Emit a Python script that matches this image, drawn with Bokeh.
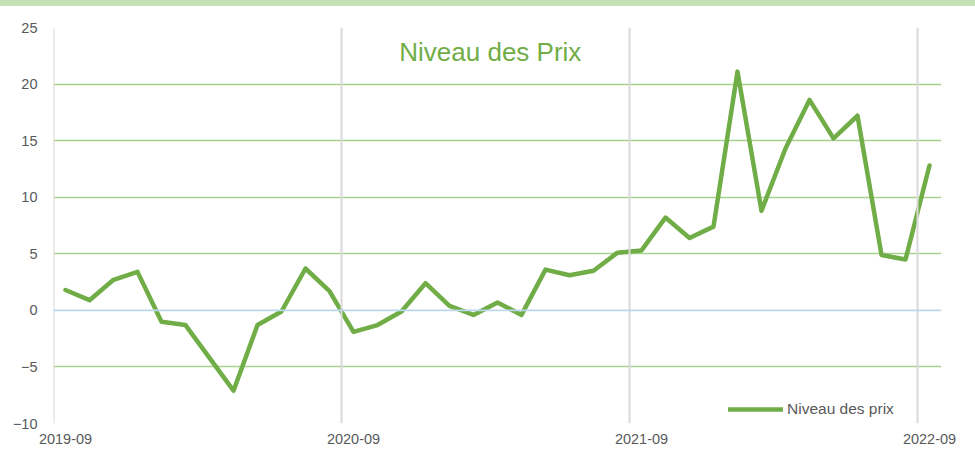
import pandas as pd
from bokeh.plotting import figure
from bokeh.models import (Range1d, FixedTicker, Span, Label, Legend, LegendItem, Div)
from bokeh.layouts import column
from bokeh.embed import file_html
from bokeh.resources import INLINE

# ---- data ----
months = [str(p) for p in pd.period_range("2019-09", "2022-09", freq="M")]
values = [1.8, 0.9, 2.7, 3.4, -1.0, -1.3, -4.2, -7.1, -1.3, -0.1, 3.7, 1.7,
          -1.9, -1.3, -0.1, 2.4, 0.4, -0.4, 0.7, -0.4, 3.6, 3.1, 3.5, 5.1,
          5.3, 8.2, 6.4, 7.4, 21.1, 8.8, 14.3, 18.6, 15.2, 17.2, 4.9, 4.5, 12.8]
tick_labels = ["2019-09", "2020-09", "2021-09", "2022-09"]
y_ticks = [-10, -5, 0, 5, 10, 15, 20, 25]
title_text = "Niveau des Prix"
series_name = "Niveau des prix"

xs = list(range(len(months)))
label_pos = [months.index(t) for t in tick_labels]

GREEN = "#70AD47"
GRID_GREEN = "#A9D18E"
GREY_TXT = "#595959"
FONT = "Liberation Sans"

p = figure(width=975, height=445, output_backend="svg", toolbar_location=None,
           x_range=Range1d(-0.5, len(months) - 0.5), y_range=Range1d(-10, 25),
           min_border_left=53, min_border_right=34, min_border_top=21,
           min_border_bottom=28, margin=0)
p.outline_line_color = None
p.background_fill_color = "white"
p.border_fill_color = "white"

# grids
p.xgrid.visible = False
p.ygrid.ticker = FixedTicker(ticks=[t for t in y_ticks if t != 0])
p.ygrid.grid_line_color = GRID_GREEN
p.ygrid.grid_line_width = 1.6

for pos in [-0.5] + [lp - 0.5 for lp in label_pos[1:]]:
    p.add_layout(Span(location=pos, dimension="height", line_color="#D9D9D9",
                      line_width=2))
p.add_layout(Span(location=0, dimension="width", line_color="#BDD7EE",
                  line_width=1.6))

# axes
p.xaxis.ticker = FixedTicker(ticks=label_pos)
p.xaxis.major_label_overrides = {lp: t for lp, t in zip(label_pos, tick_labels)}
p.yaxis.ticker = FixedTicker(ticks=y_ticks)
for ax in (p.xaxis, p.yaxis):
    ax.axis_line_color = None
    ax.major_tick_line_color = None
    ax.minor_tick_line_color = None
    ax.major_tick_in = 0
    ax.major_tick_out = 0
    ax.major_label_text_color = GREY_TXT
    ax.major_label_text_font = FONT
    ax.major_label_text_font_size = "14.5px"
p.xaxis.major_label_standoff = 10
p.yaxis.major_label_standoff = 16

r = p.line(xs, values, line_color=GREEN, line_width=4.5,
           line_join="round", line_cap="round")

p.add_layout(Label(x=17.7, y=22.8, text=title_text, text_align="center",
                   text_baseline="alphabetic", text_color=GREEN,
                   text_font=FONT, text_font_size="26px"))

legend = Legend(items=[LegendItem(label=series_name, renderers=[r])],
                location=(675, 4), glyph_width=55, glyph_height=20,
                label_standoff=4, padding=0, margin=0, spacing=0,
                border_line_color=None, background_fill_alpha=0,
                label_text_color=GREY_TXT, label_text_font=FONT,
                label_text_font_size="15.5px")
p.add_layout(legend, "center")

stripe = Div(width=975, height=6, margin=0,
             styles={"background-color": "#C5E0B4"})
layout = column(stripe, p, spacing=0, margin=0)

open("out.html", "w").write(file_html(layout, INLINE))
